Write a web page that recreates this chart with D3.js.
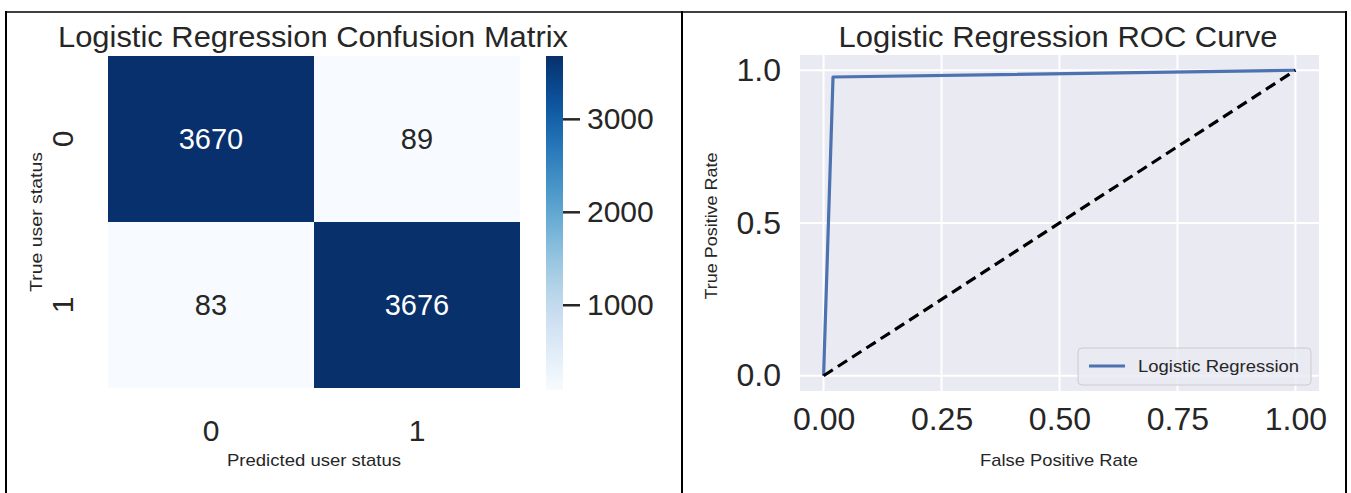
<!DOCTYPE html>
<html>
<head>
<meta charset="utf-8">
<script src="https://cdn.jsdelivr.net/npm/d3@7"></script>
<style>
  html, body { margin: 0; padding: 0; background: #fff; }
  text { font-family: "Liberation Sans", Arial, sans-serif; fill: #262626; }
</style>
</head>
<body>
<div id="chart"></div>
<script>
// ---- data ----
const cmLabels = ["0", "1"];
const cmValues = [[3670, 89], [83, 3676]];
const cbTicks = [1000, 2000, 3000];

const rocFpr = [0, 0.02, 1];
const rocTpr = [0, 0.978, 1];
const diagFpr = [0, 1];
const diagTpr = [0, 1];
const rocXTicks = [0, 0.25, 0.5, 0.75, 1];
const rocYTicks = [0, 0.5, 1];

const W = 1351, H = 493;
const svg = d3.select("#chart").append("svg")
  .attr("width", W).attr("height", H);
svg.append("rect").attr("width", W).attr("height", H).attr("fill", "#fff");

// table borders
const border = svg.append("g").attr("stroke", "#000");
border.append("line").attr("x1", 5).attr("x2", 1347).attr("y1", 12).attr("y2", 12).attr("stroke-width", 1.5);
[6, 682, 1346].forEach(x =>
  border.append("line").attr("x1", x).attr("x2", x).attr("y1", 11).attr("y2", H).attr("stroke-width", 2));

// ================= Confusion matrix =================
const vmin = d3.min(cmValues.flat()), vmax = d3.max(cmValues.flat());
const color = d3.scaleSequential(d3.interpolateBlues).domain([vmin, vmax]);

const hx = d3.scaleBand().domain(cmLabels).range([108, 520]);
const hy = d3.scaleBand().domain(cmLabels).range([56, 388]);

const cells = cmValues.flatMap((row, i) => row.map((v, j) => ({ r: cmLabels[i], c: cmLabels[j], v })));

const hm = svg.append("g");
hm.selectAll("rect").data(cells).join("rect")
  .attr("x", d => hx(d.c)).attr("y", d => hy(d.r))
  .attr("width", hx.bandwidth()).attr("height", hy.bandwidth())
  .attr("fill", d => color(d.v));

hm.selectAll("text.ann").data(cells).join("text")
  .attr("class", "ann")
  .attr("x", d => hx(d.c) + hx.bandwidth() / 2)
  .attr("y", d => hy(d.r) + hy.bandwidth() / 2)
  .attr("dy", "0.35em")
  .attr("text-anchor", "middle")
  .attr("font-size", 29)
  .style("fill", d => (d.v - vmin) / (vmax - vmin) > 0.5 ? "#fff" : "#262626")
  .text(d => d.v);

// tick labels
hm.selectAll("text.xt").data(cmLabels).join("text")
  .attr("class", "xt")
  .attr("x", d => hx(d) + hx.bandwidth() / 2)
  .attr("y", 441)
  .attr("text-anchor", "middle")
  .attr("font-size", 30)
  .text(d => d);

hm.selectAll("text.yt").data(cmLabels).join("text")
  .attr("class", "yt")
  .attr("transform", d => `translate(73,${hy(d) + hy.bandwidth() / 2}) rotate(-90)`)
  .attr("text-anchor", "middle")
  .attr("font-size", 30)
  .text(d => d);

svg.append("text")
  .attr("x", 314).attr("y", 466)
  .attr("text-anchor", "middle").attr("font-size", 17)
  .attr("textLength", 174).attr("lengthAdjust", "spacingAndGlyphs")
  .text("Predicted user status");

svg.append("text")
  .attr("transform", "translate(42,222) rotate(-90)")
  .attr("text-anchor", "middle").attr("font-size", 17)
  .attr("textLength", 140).attr("lengthAdjust", "spacingAndGlyphs")
  .text("True user status");

svg.append("text")
  .attr("x", 313).attr("y", 47)
  .attr("text-anchor", "middle").attr("font-size", 30)
  .attr("textLength", 510).attr("lengthAdjust", "spacingAndGlyphs")
  .text("Logistic Regression Confusion Matrix");

// colorbar
const cbY = d3.scaleLinear().domain([vmin, vmax]).range([390, 56]);
const defs = svg.append("defs");
const grad = defs.append("linearGradient").attr("id", "cbgrad")
  .attr("x1", 0).attr("y1", 1).attr("x2", 0).attr("y2", 0);
d3.range(0, 1.0001, 0.05).forEach(t =>
  grad.append("stop").attr("offset", t).attr("stop-color", d3.interpolateBlues(t)));
svg.append("rect")
  .attr("x", 546).attr("y", 56).attr("width", 17).attr("height", 334)
  .attr("fill", "url(#cbgrad)");

const cbAxis = svg.append("g")
  .attr("transform", "translate(563,0)")
  .call(d3.axisRight(cbY).tickValues(cbTicks).tickSize(17).tickPadding(7).tickFormat(d3.format("d")));
cbAxis.select(".domain").remove();
cbAxis.selectAll(".tick line").attr("stroke", "#262626").attr("stroke-width", 2.5);
cbAxis.selectAll(".tick text")
  .attr("font-size", 30).attr("font-family", "Liberation Sans, Arial, sans-serif")
  .style("fill", "#262626");

// ================= ROC curve =================
const x = d3.scaleLinear().domain([-0.05, 1.05]).range([800, 1319]);
const y = d3.scaleLinear().domain([-0.05, 1.05]).range([391, 55]);

const roc = svg.append("g");
roc.append("rect")
  .attr("x", x(-0.05)).attr("y", y(1.05))
  .attr("width", x(1.05) - x(-0.05)).attr("height", y(-0.05) - y(1.05))
  .attr("fill", "#eaeaf2");

roc.append("g").selectAll("line").data(rocXTicks).join("line")
  .attr("x1", d => x(d)).attr("x2", d => x(d))
  .attr("y1", y(-0.05)).attr("y2", y(1.05))
  .attr("stroke", "#fff").attr("stroke-width", 2);
roc.append("g").selectAll("line").data(rocYTicks).join("line")
  .attr("y1", d => y(d)).attr("y2", d => y(d))
  .attr("x1", x(-0.05)).attr("x2", x(1.05))
  .attr("stroke", "#fff").attr("stroke-width", 2);

const xAxis = roc.append("g")
  .attr("transform", `translate(0,${y(-0.05)})`)
  .call(d3.axisBottom(x).tickValues(rocXTicks).tickSize(0).tickPadding(16).tickFormat(d3.format(".2f")));
const yAxis = roc.append("g")
  .attr("transform", `translate(${x(-0.05)},0)`)
  .call(d3.axisLeft(y).tickValues(rocYTicks).tickSize(0).tickPadding(19).tickFormat(d3.format(".1f")));
[xAxis, yAxis].forEach(a => {
  a.select(".domain").remove();
  a.selectAll(".tick text")
    .attr("font-size", 32).attr("font-family", "Liberation Sans, Arial, sans-serif")
    .style("fill", "#262626");
});

const line = d3.line().x(d => x(d[0])).y(d => y(d[1]));
roc.append("path")
  .attr("d", line(d3.zip(rocFpr, rocTpr)))
  .attr("fill", "none").attr("stroke", "#4c72b0").attr("stroke-width", 3.2)
  .attr("stroke-linejoin", "round");
roc.append("path")
  .attr("d", line(d3.zip(diagFpr, diagTpr)))
  .attr("fill", "none").attr("stroke", "#000").attr("stroke-width", 3.2)
  .attr("stroke-dasharray", "11,6");

svg.append("text")
  .attr("x", 1058).attr("y", 47)
  .attr("text-anchor", "middle").attr("font-size", 30)
  .attr("textLength", 439).attr("lengthAdjust", "spacingAndGlyphs")
  .text("Logistic Regression ROC Curve");

svg.append("text")
  .attr("x", 1059).attr("y", 466)
  .attr("text-anchor", "middle").attr("font-size", 17)
  .attr("textLength", 158).attr("lengthAdjust", "spacingAndGlyphs")
  .text("False Positive Rate");

svg.append("text")
  .attr("transform", "translate(717,226) rotate(-90)")
  .attr("text-anchor", "middle").attr("font-size", 17)
  .attr("textLength", 147).attr("lengthAdjust", "spacingAndGlyphs")
  .text("True Positive Rate");

// legend
const lg = svg.append("g").attr("transform", "translate(1078,348)");
lg.append("rect").attr("width", 233).attr("height", 37).attr("rx", 4)
  .attr("fill", "#eaeaf2").attr("fill-opacity", 0.8)
  .attr("stroke", "#cccccc").attr("stroke-width", 1);
lg.append("line").attr("x1", 11).attr("x2", 47).attr("y1", 18).attr("y2", 18)
  .attr("stroke", "#4c72b0").attr("stroke-width", 3.2);
lg.append("text").attr("x", 60).attr("y", 24).attr("font-size", 16)
  .attr("textLength", 161).attr("lengthAdjust", "spacingAndGlyphs")
  .text("Logistic Regression");
</script>
</body>
</html>
